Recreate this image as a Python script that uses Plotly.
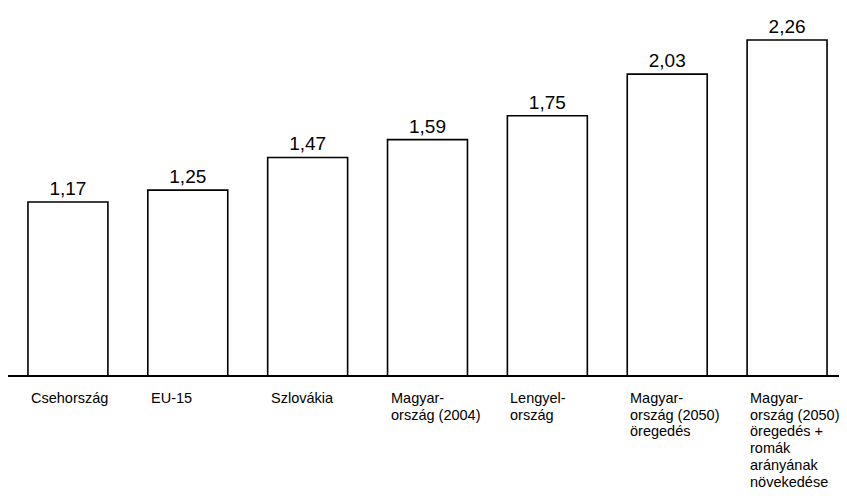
import plotly.graph_objects as go

categories = [
    ["Csehország"],
    ["EU-15"],
    ["Szlovákia"],
    ["Magyar-", "ország (2004)"],
    ["Lengyel-", "ország"],
    ["Magyar-", "ország (2050)", "öregedés"],
    ["Magyar-", "ország (2050)", "öregedés +", "romák", "arányának", "növekedése"],
]
values = [1.17, 1.25, 1.47, 1.59, 1.75, 2.03, 2.26]
value_labels = [f"{v:.2f}".replace(".", ",") for v in values]

FONT = "Liberation Sans, Arial, sans-serif"
xs = list(range(len(values)))

fig = go.Figure()
fig.add_trace(go.Bar(
    x=xs, y=values, width=0.667,
    marker=dict(color="white", line=dict(color="black", width=1.6)),
    text=value_labels, textposition="outside",
    textfont=dict(family=FONT, size=19, color="black"),
    cliponaxis=False,
))

annotations = []
for i, lines in enumerate(categories):
    for j, line in enumerate(lines):
        annotations.append(dict(
            x=i - 0.333, xref="x", xanchor="left", xshift=1,
            y=0, yref="paper", yanchor="middle", yshift=-(22 + 16.7 * j),
            text=line, showarrow=False,
            font=dict(family=FONT, size=14.5, color="black"),
        ))

fig.update_layout(
    width=839, height=494,
    margin=dict(l=0, r=0, t=0, b=126),
    paper_bgcolor="white", plot_bgcolor="white",
    showlegend=False,
    bargap=0.333,
    annotations=annotations,
    xaxis=dict(range=[-0.5, 6.5], showticklabels=False, ticks="", showgrid=False,
               zeroline=False, showline=False),
    yaxis=dict(range=[0, 2.475], visible=False, showgrid=False, zeroline=False),
    shapes=[dict(type="line", xref="paper", yref="paper", x0=0, x1=1, y0=0, y1=0,
                 line=dict(color="black", width=2.2))],
)

fig.write_html("out.html")
